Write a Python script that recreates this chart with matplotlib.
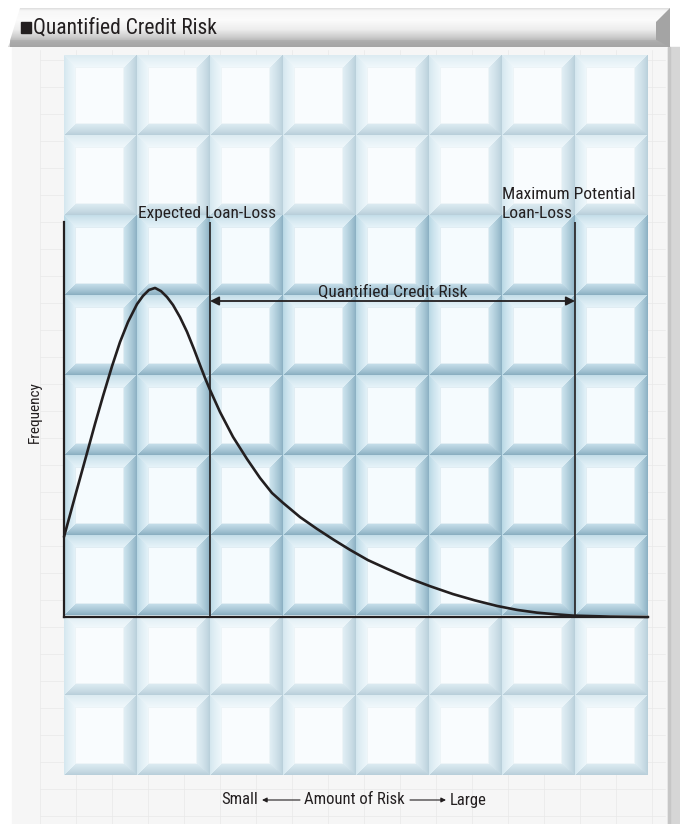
"""Quantified credit risk: loss distribution drawn over a tiled backdrop."""
import numpy as np
import matplotlib
matplotlib.use('Agg')
import matplotlib.pyplot as plt
from matplotlib import font_manager
from matplotlib.patches import Rectangle, Polygon

# loss distribution (x: amount of risk, y: frequency)
risk = [0.000, 0.164, 0.315, 0.425, 0.534, 0.658, 0.767, 0.877, 1.000, 1.082,
        1.164, 1.247, 1.329, 1.411, 1.493, 1.589, 1.685, 1.781, 1.863, 1.932,
        2.000, 2.137, 2.315, 2.507, 2.685, 2.849, 3.000, 3.233, 3.466, 3.699,
        3.918, 4.164, 4.425, 4.712, 5.014, 5.329, 5.630, 5.932, 6.205, 6.479,
        6.726, 6.973, 7.479, 8.000]
frequency = [20.3, 31.4, 41.5, 48.9, 55.9, 63.5, 69.6, 74.7, 79.2, 81.3,
             82.8, 83.3, 82.5, 81.0, 79.0, 75.9, 72.2, 67.8, 63.8, 60.5,
             57.5, 51.9, 45.6, 40.0, 35.2, 31.4, 28.9, 25.3, 22.3, 19.5,
             17.0, 14.4, 12.2, 9.9, 7.8, 5.8, 4.2, 2.8, 1.8, 1.1,
             0.7, 0.35, 0.1, 0.0]

expected_loss = 2.0
max_loss = 7.0
risk_band_level = 80

title = 'Quantified Credit Risk'
expected_label = 'Expected Loan-Loss'
max_label = ['Maximum Potential', 'Loan-Loss']
band_label = 'Quantified Credit Risk'
ylabel = 'Frequency'
xlabel_parts = ['Small', 'Amount of Risk', 'Large']

INK = '#231f20'

installed = {f.name for f in font_manager.fontManager.ttflist}
FONT = 'DejaVu Sans'
for name in ('Liberation Sans Narrow', 'Roboto Condensed', 'Liberation Sans',
             'Roboto', 'Noto Sans'):
    if name in installed:
        FONT = name
        break
fs = 0.85 if FONT == 'DejaVu Sans' else 1.0
plt.rcParams['font.family'] = [FONT, 'DejaVu Sans']


def hex_rgb(h):
    return np.array([int(h[i:i + 2], 16) for i in (1, 3, 5)]) / 255.0


def tile_image(w, h, fade):
    """One bevelled glass tile as an RGB array."""
    u = np.arange(w)[None, :] + 0.5
    v = np.arange(h)[:, None] + 0.5
    bevel = np.array([11.0, 13.0, 12.0, 11.0])  # left, right, top, bottom
    d = np.stack(np.broadcast_arrays(u, w - u, v, h - v))
    norm = d / bevel[:, None, None]
    side = norm.argmin(axis=0)
    m = norm.min(axis=0)
    outer = [hex_rgb(c) for c in ('#b6d6e3', '#88aec1', '#c2dce7', '#86abbe')]
    inner = [hex_rgb(c) for c in ('#e2f1f8', '#cde4ee', '#e6f3f9', '#c4dde9')]
    img = np.empty((h, w, 3))
    img[:] = hex_rgb('#f5fbfe')
    for k in range(4):
        sel = (side == k) & (m < 1)
        t = np.clip(m[sel], 0, 1)[:, None] ** 0.8
        img[sel] = outer[k] + (inner[k] - outer[k]) * t
    edge = (d - bevel[:, None, None]).min(axis=0)
    img[(edge >= 0) & (edge < 1.2)] = hex_rgb('#e1edf3')
    return 1 - (1 - img) * fade


fig = plt.figure(figsize=(6.8, 8.24), dpi=100)
bg = fig.add_axes([0, 0, 1, 1])
bg.axis('off')

# panel, faint grid and right-hand strip
bg.add_patch(Rectangle((12, 47), 656, 777, color='#f6f6f6', zorder=0))
for gx in np.arange(40, 668, 36):
    bg.plot([gx, gx], [50, 824], color='#e9e9e9', lw=0.5, zorder=0.5)
for gy in np.arange(60, 824, 27):
    bg.plot([40, 665], [gy, gy], color='#e9e9e9', lw=0.5, zorder=0.5)
bg.add_patch(Rectangle((668, 47), 12, 777, color='#d6d6d6', zorder=1))
bg.add_patch(Rectangle((668, 47), 2, 777, color='#c6c6c6', zorder=1))

# tile wall: 8 columns x 9 rows, the rows behind the chart in full colour
ncol, nrow, tw, th = 8, 9, 73, 80
x0, y0 = 64, 55
wall = np.ones((nrow * th, ncol * tw, 3))
for r in range(nrow):
    fade = 1.0 if 2 <= r <= 6 else 0.6
    t = tile_image(tw, th, fade)
    for c in range(ncol):
        wall[r * th:(r + 1) * th, c * tw:(c + 1) * tw] = t
bg.imshow(wall, extent=(x0, x0 + ncol * tw, y0 + nrow * th, y0),
          interpolation='bilinear', zorder=2)

# header bar
hh, hw = 39, 660
stops_t = [0.0, 0.06, 0.3, 0.55, 0.75, 0.9, 1.0]
stops_v = [0.88, 0.97, 0.985, 0.93, 0.80, 0.68, 0.64]
col = np.interp(np.linspace(0, 1, hh), stops_t, stops_v)
head = np.repeat(col[:, None], hw, axis=1)
head_rgb = np.repeat(head[:, :, None], 3, axis=2)
him = bg.imshow(head_rgb, extent=(10, 10 + hw, 8 + hh, 8), zorder=3,
                interpolation='bilinear')
clip = Polygon([(8, 47), (20, 8), (670, 8), (670, 47)], closed=True,
               transform=bg.transData, facecolor='none', edgecolor='none')
bg.add_patch(clip)
him.set_clip_path(clip)
# bevelled right end of the bar
bg.add_patch(Polygon([(656, 22), (670, 8), (670, 47), (656, 40)], closed=True,
                     facecolor='#a4a4a4', edgecolor='none', zorder=3.5))
bg.add_patch(Polygon([(656, 40), (670, 47), (8, 47), (11, 40)], closed=True,
                     facecolor='#a8a8a8', edgecolor='none', zorder=3.4, alpha=0.5))
bg.set_xlim(0, 680)
bg.set_ylim(824, 0)

bg.add_patch(Rectangle((21, 22), 10, 11, color=INK, zorder=4))
bg.text(33, 28, title, fontsize=15.5 * fs, color=INK, va='center', ha='left', zorder=4)

# chart
ax = fig.add_axes([64 / 680, (824 - 617) / 824, (648 - 64) / 680, (617 - 222) / 824])
ax.set_facecolor('none')
ax.set_xlim(0, 8)
ax.set_ylim(0, 100)
for s in ('top', 'right'):
    ax.spines[s].set_visible(False)
for s in ('left', 'bottom'):
    ax.spines[s].set_linewidth(1.6)
    ax.spines[s].set_color(INK)
ax.set_xticks([])
ax.set_yticks([])

ax.plot(risk, frequency, color=INK, lw=1.9, solid_capstyle='round',
        solid_joinstyle='round', clip_on=False)
ax.axvline(expected_loss, color=INK, lw=1.2)
ax.axvline(max_loss, color=INK, lw=1.2)
ax.annotate('', xy=(expected_loss, risk_band_level), xytext=(max_loss, risk_band_level),
            arrowprops=dict(arrowstyle='<|-|>', color=INK, lw=1.3,
                            mutation_scale=13, shrinkA=0, shrinkB=0))
ax.text((expected_loss + max_loss) / 2, risk_band_level + 1.2, band_label,
        fontsize=12.5 * fs, color=INK, ha='center', va='baseline')
ax.text(expected_loss - 0.04, 101, expected_label, fontsize=12.5 * fs, color=INK,
        ha='center', va='baseline', clip_on=False)
ax.text(max_loss - 1.0, 105.8, max_label[0], fontsize=12.5 * fs, color=INK,
        ha='left', va='baseline', clip_on=False)
ax.text(max_loss - 1.0, 101, max_label[1], fontsize=12.5 * fs, color=INK,
        ha='left', va='baseline', clip_on=False)
ax.text(-0.05, 0.52, ylabel, transform=ax.transAxes, rotation=90,
        fontsize=11 * fs, color=INK, ha='center', va='center')

# axis caption with direction arrows
cy = 800
bg.text(258, cy, xlabel_parts[0], fontsize=12 * fs, color=INK, ha='right', va='center')
bg.text(354.5, cy, xlabel_parts[1], fontsize=12 * fs, color=INK, ha='center', va='center')
bg.text(450, cy, xlabel_parts[2], fontsize=12 * fs, color=INK, ha='left', va='center')
for a, b in ((300, 262), (410, 446)):
    bg.annotate('', xy=(b, cy), xytext=(a, cy),
                arrowprops=dict(arrowstyle='-|>', color=INK, lw=0.8,
                                mutation_scale=7, shrinkA=0, shrinkB=0))

fig.savefig('out.png', dpi=100)
